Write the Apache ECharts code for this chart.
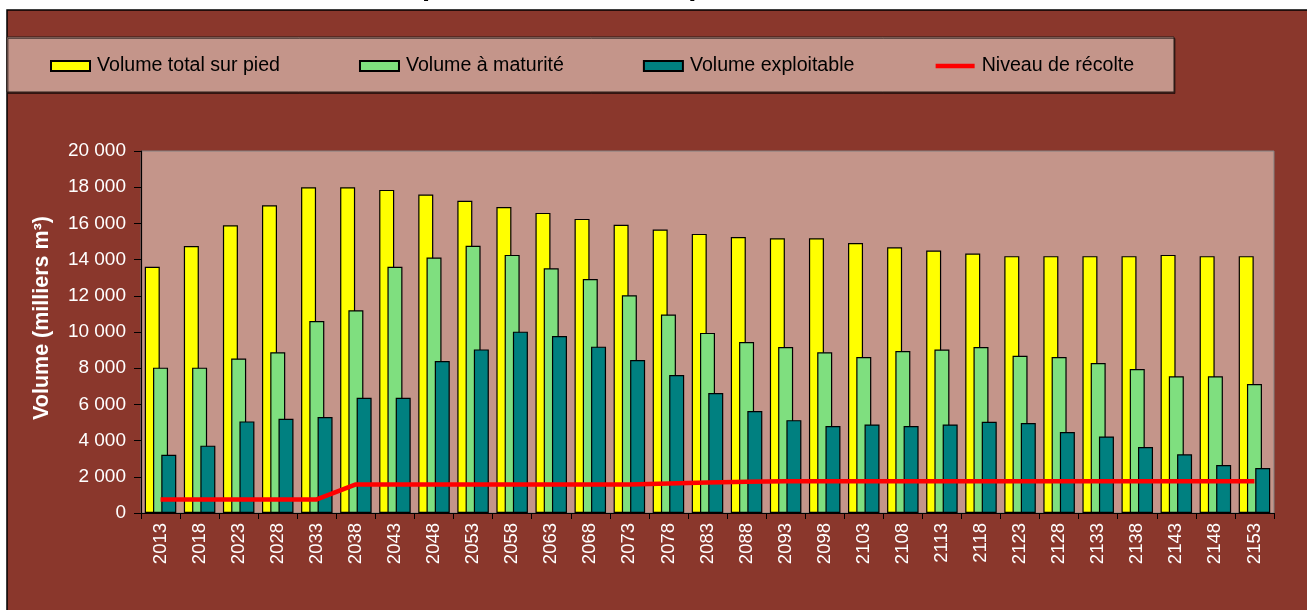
<!DOCTYPE html>
<html>
<head>
<meta charset="utf-8">
<title>Volumes</title>
<script src="https://cdn.jsdelivr.net/npm/echarts@6/dist/echarts.min.js"></script>
<style>
	body{margin:0;background:#FFFFFF;}
	#chart{width:1307px;height:610px;}
</style>
</head>
<body>
<div id="chart"></div>
<script>
var years = ['2013','2018','2023','2028','2033','2038','2043','2048','2053','2058','2063','2068','2073','2078','2083',
	'2088','2093','2098','2103','2108','2113','2118','2123','2128','2133','2138','2143','2148','2153'];

var volumeTotal = [13600,14750,15900,17000,18000,18000,17850,17600,17250,16900,16580,16250,15920,15660,15420,
	15250,15180,15180,14920,14680,14500,14340,14190,14190,14190,14190,14260,14190,14190];

var volumeMaturite = [8030,8030,8530,8880,10610,11200,13600,14110,14760,14260,13520,12930,12030,10960,9950,
	9450,9170,8880,8620,8950,9030,9170,8690,8620,8290,7950,7550,7550,7130];

var volumeExploitable = [3220,3720,5060,5210,5300,6370,6370,8400,9040,10020,9780,9190,8450,7620,6630,
	5630,5130,4800,4890,4800,4890,5040,4970,4470,4230,3640,3240,2650,2480];

var niveauRecolte = [750,750,750,750,750,1580,1580,1580,1580,1580,1580,1580,1580,1630,1680,
	1730,1760,1760,1760,1760,1760,1760,1760,1760,1760,1760,1760,1760,1760];

var yTicks = [0,2000,4000,6000,8000,10000,12000,14000,16000,18000,20000];

var COLOR = {
	FOND:'#8A372C',
	PANNEAU:'#C4958A',
	TOTAL:'#FFFF00',
	MATURITE:'#7FDF7F',
	EXPLOITABLE:'#008080',
	RECOLTE:'#FF0000'
};

var FONT = '"Liberation Sans", Arial, sans-serif';

function formatMilliers(v){
	return String(v).replace(/\B(?=(\d{3})+(?!\d))/g,' ');
}

function barSerie(name,color,data){
	return {
		name:name,
		type:'bar',
		barWidth:15,
		barGap:'-45%',
		itemStyle:{
			color:color,
			borderColor:'#000000',
			borderWidth:1.2
		},
		data:data
	};
}

var myChart = echarts.init(document.getElementById('chart'),null,{renderer:'canvas'});
myChart.setOption({
	animation:false,
	backgroundColor:'#FFFFFF',
	textStyle:{fontFamily:FONT},
	graphic:[
		{
			type:'rect',
			z:-10,
			shape:{x:7,y:10,width:1320,height:620},
			style:{fill:COLOR.FOND,stroke:'#000000',lineWidth:1.5}
		},
		{
			type:'rect',
			z:-9,
			shape:{x:7,y:37,width:1167,height:55},
			style:{fill:COLOR.PANNEAU,stroke:'#2A1E1A',lineWidth:1,
				shadowColor:'rgba(0,0,0,0.5)',shadowOffsetX:1,shadowOffsetY:1.5}
		},
		{
			//titre coupé en haut de l'image
			type:'text',
			z:-8,
			x:256,
			y:-13,
			style:{
				text:'Volume sur pied, à maturité, exploitable',
				font:'bold 29.4px ' + FONT,
				fill:'#000000',
				verticalAlign:'middle'
			}
		}
	],
	legend:{
		left:50,
		top:56,
		padding:0,
		itemGap:79,
		itemWidth:39,
		itemHeight:10,
		textStyle:{color:'#000000',fontSize:19.6,fontFamily:FONT,padding:[0,0,0,2]},
		data:[
			{name:'Volume total sur pied',icon:'rect'},
			{name:'Volume à maturité',icon:'rect'},
			{name:'Volume exploitable',icon:'rect'},
			{name:'Niveau de récolte',itemStyle:{opacity:0},lineStyle:{width:4.5,color:COLOR.RECOLTE}}
		]
	},
	grid:{
		left:141,
		top:151,
		right:33,
		bottom:97,
		show:true,
		backgroundColor:COLOR.PANNEAU,
		borderColor:'#808080',
		borderWidth:1
	},
	xAxis:{
		type:'category',
		data:years,
		axisLine:{show:true,lineStyle:{color:'#000000',width:1.2}},
		axisTick:{show:true,length:6,lineStyle:{color:'#000000'}},
		axisLabel:{
			rotate:90,
			margin:10,
			color:'#FFFFFF',
			fontSize:18.5,
			fontFamily:FONT,
			interval:0
		}
	},
	yAxis:{
		type:'value',
		min:yTicks[0],
		max:yTicks[yTicks.length-1],
		interval:yTicks[1]-yTicks[0],
		name:'Volume (milliers m³)',
		nameLocation:'middle',
		nameRotate:90,
		nameGap:88,
		nameTextStyle:{color:'#FFFFFF',fontSize:21.5,fontWeight:'bold',fontFamily:FONT,padding:[0,0,0,28]},
		axisLine:{show:true,lineStyle:{color:'#000000',width:1.2}},
		axisTick:{show:true,length:7,lineStyle:{color:'#000000'}},
		splitLine:{show:false},
		axisLabel:{
			color:'#FFFFFF',
			fontSize:19,
			margin:15,
			fontFamily:FONT,
			formatter:formatMilliers
		}
	},
	series:[
		barSerie('Volume total sur pied',COLOR.TOTAL,volumeTotal),
		barSerie('Volume à maturité',COLOR.MATURITE,volumeMaturite),
		barSerie('Volume exploitable',COLOR.EXPLOITABLE,volumeExploitable),
		{
			name:'Niveau de récolte',
			type:'line',
			symbol:'none',
			z:5,
			lineStyle:{color:COLOR.RECOLTE,width:4.5},
			itemStyle:{color:COLOR.RECOLTE},
			data:niveauRecolte
		}
	]
});
</script>
</body>
</html>
